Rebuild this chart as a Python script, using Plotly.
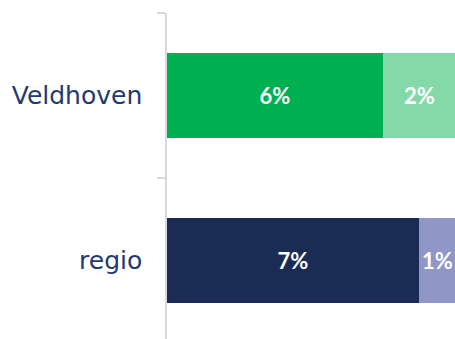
import plotly.graph_objects as go

# Share of respondents per area, split into two parts
categories = ["Veldhoven", "regio"]
part_a = [6, 7]
part_b = [2, 1]
colors_a = ["#00B050", "#1B2C54"]
colors_b = ["#84D9A9", "#9097C6"]

label_font = dict(family="Lato", size=22, color="white", weight="bold")

fig = go.Figure()
fig.add_trace(go.Bar(
    y=categories, x=part_a, orientation="h",
    marker=dict(color=colors_a, line=dict(width=0)),
    text=[f"{v}%" for v in part_a], textposition="inside",
    insidetextanchor="middle", textfont=label_font,
    textangle=0, hoverinfo="skip",
))
fig.add_trace(go.Bar(
    y=categories, x=part_b, orientation="h",
    marker=dict(color=colors_b, line=dict(width=0)),
    textposition="none", hoverinfo="skip",
))

# Labels for the narrow segments, placed at each segment's midpoint
for cat, a, b in zip(categories, part_a, part_b):
    fig.add_annotation(
        x=a + b / 2, y=cat, xref="x", yref="y",
        text=f"{b}%", showarrow=False, font=label_font,
        xanchor="center", yanchor="middle",
    )

fig.update_layout(
    barmode="stack",
    bargap=0.49,
    width=455, height=339,
    margin=dict(l=167, r=0, t=13, b=0),
    plot_bgcolor="white", paper_bgcolor="white",
    showlegend=False,
    xaxis=dict(range=[0, 8], visible=False, fixedrange=True),
    yaxis=dict(
        categoryorder="array", categoryarray=categories,
        range=[1.476, -0.5],
        showline=True, linecolor="#D9D9D9", linewidth=1.5,
        ticks="outside", tickson="boundaries", ticklen=8,
        tickcolor="#D9D9D9", tickwidth=1.5,
        ticklabelstandoff=18,
        tickfont=dict(family="DejaVu Sans", size=25, color="#1F3A70"),
        showgrid=False, zeroline=False,
    ),
)

fig.write_html("out.html")
